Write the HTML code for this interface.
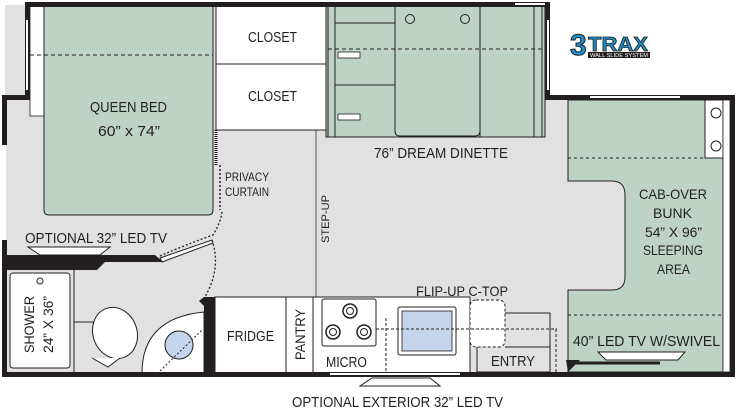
<!DOCTYPE html>
<html><head><meta charset="utf-8"><style>
html,body{margin:0;padding:0;background:#fff;width:741px;height:409px;overflow:hidden}
text{font-family:"Liberation Sans",sans-serif;fill:#231f20}
</style></head><body>
<svg width="741" height="409" viewBox="0 0 741 409" xmlns="http://www.w3.org/2000/svg">
<!-- floor -->
<rect x="5" y="5" width="545" height="370" fill="#e1e1e1"/>
<rect x="550" y="98" width="182" height="277" fill="#e1e1e1"/>
<!-- left slide strip -->
<rect x="30" y="6" width="14" height="110" fill="#fff" stroke="#231f20" stroke-width="0.8"/>
<!-- queen bed -->
<path d="M44 6 H213 V210 Q213 215 208 215 H49 Q44 215 44 210 Z" fill="#bcd3c6" stroke="#231f20" stroke-width="1"/>
<line x1="30" y1="55" x2="213" y2="55" stroke="#231f20" stroke-dasharray="4,3"/>
<text x="90" y="112" font-size="15" textLength="77" lengthAdjust="spacingAndGlyphs">QUEEN BED</text>
<text x="98" y="136" font-size="15" textLength="62" lengthAdjust="spacingAndGlyphs">60” x 74”</text>
<!-- closets -->
<rect x="216" y="6" width="110" height="58" fill="#fff" stroke="#231f20"/>
<rect x="216" y="64" width="110" height="66" fill="#fff" stroke="#231f20"/>
<text x="248" y="42" font-size="15" textLength="49" lengthAdjust="spacingAndGlyphs">CLOSET</text>
<text x="248" y="101" font-size="15" textLength="49" lengthAdjust="spacingAndGlyphs">CLOSET</text>
<line x1="216" y1="130" x2="216" y2="165" stroke="#231f20" stroke-width="3" stroke-dasharray="1,1"/>
<line x1="220" y1="165" x2="220" y2="210" stroke="#231f20" stroke-width="1.5" stroke-dasharray="2,2"/>
<text x="225" y="181" font-size="12" textLength="44" lengthAdjust="spacingAndGlyphs">PRIVACY</text>
<text x="225" y="196" font-size="12" textLength="44" lengthAdjust="spacingAndGlyphs">CURTAIN</text>
<!-- dinette -->
<rect x="326" y="6" width="219" height="131" fill="#bcd3c6" stroke="#231f20"/>
<rect x="328" y="6" width="7" height="131" fill="#bcd3c6" stroke="#231f20"/>
<path d="M395 6 V131 Q395 136 400 136 H475 Q480 136 480 131 V6" fill="none" stroke="#231f20"/>
<line x1="480" y1="6" x2="480" y2="137" stroke="#231f20"/>
<rect x="534" y="6" width="8" height="131" fill="#bcd3c6" stroke="#231f20"/>
<line x1="335" y1="23" x2="395" y2="23" stroke="#231f20"/>
<line x1="335" y1="85" x2="395" y2="85" stroke="#231f20"/>
<rect x="338" y="52" width="22" height="6" fill="#fff" stroke="#231f20" stroke-width="0.8"/>
<rect x="338" y="114" width="22" height="6" fill="#fff" stroke="#231f20" stroke-width="0.8"/>
<line x1="328" y1="49" x2="542" y2="49" stroke="#231f20" stroke-dasharray="4,3"/>
<circle cx="410" cy="19" r="4.5" fill="none" stroke="#231f20"/>
<circle cx="465" cy="19" r="4.5" fill="none" stroke="#231f20"/>
<text x="374" y="158" font-size="15" textLength="134" lengthAdjust="spacingAndGlyphs">76” DREAM DINETTE</text>
<!-- step up -->
<line x1="316" y1="130" x2="316" y2="297" stroke="#555" stroke-width="1"/>
<text x="0" y="0" font-size="11" textLength="48" lengthAdjust="spacingAndGlyphs" transform="translate(329,243) rotate(-90)">STEP-UP</text>
<!-- cab-over bunk -->
<path d="M568 100 H723 V372 H568 V290 H612 Q625 290 625 277 V195 Q625 181 612 181 H568 Z" fill="#bcd3c6" stroke="#231f20"/>
<rect x="705" y="100" width="18" height="58" fill="#fff" stroke="#231f20"/>
<circle cx="716" cy="113" r="5" fill="none" stroke="#231f20"/>
<circle cx="716" cy="146" r="5" fill="none" stroke="#231f20"/>
<line x1="568" y1="158" x2="705" y2="158" stroke="#231f20" stroke-dasharray="3,3"/>
<line x1="568" y1="315" x2="723" y2="315" stroke="#231f20" stroke-dasharray="3,3"/>
<rect x="723" y="100" width="7" height="272" fill="#fff" stroke="#231f20" stroke-width="0.8"/>
<g font-size="14">
<text x="639" y="199" textLength="68" lengthAdjust="spacingAndGlyphs">CAB-OVER</text>
<text x="653" y="218" textLength="39" lengthAdjust="spacingAndGlyphs">BUNK</text>
<text x="645" y="237" textLength="57" lengthAdjust="spacingAndGlyphs">54” X 96”</text>
<text x="643" y="255" textLength="60" lengthAdjust="spacingAndGlyphs">SLEEPING</text>
<text x="657" y="274" textLength="33" lengthAdjust="spacingAndGlyphs">AREA</text>
</g>
<text x="573" y="346" font-size="15" textLength="147" lengthAdjust="spacingAndGlyphs">40” LED TV W/SWIVEL</text>
<path d="M598 352 H685 L678 360 H606 Z" fill="#fff" stroke="#231f20"/>
<line x1="568" y1="363" x2="660" y2="363" stroke="#231f20" stroke-width="3"/>
<path d="M566 360 L580 360 L568 372 Z" fill="#231f20"/>
<!-- kitchen -->
<rect x="215" y="297" width="71" height="76" fill="#fff" stroke="#231f20"/>
<rect x="286" y="297" width="27" height="76" fill="#fff" stroke="#231f20"/>
<path d="M313 297 H470 V373 H313 Z" fill="#fff" stroke="#231f20"/>
<text x="227" y="341" font-size="15" textLength="47" lengthAdjust="spacingAndGlyphs">FRIDGE</text>
<text x="0" y="0" font-size="14" textLength="51" lengthAdjust="spacingAndGlyphs" transform="translate(305,360) rotate(-90)">PANTRY</text>
<rect x="322" y="299" width="54" height="47" rx="2" fill="#fff" stroke="#231f20"/>
<g fill="none" stroke="#231f20">
<circle cx="350" cy="311" r="7" stroke-width="1.5"/><circle cx="350" cy="311" r="3.5"/>
<circle cx="333" cy="332" r="7" stroke-width="1.5"/><circle cx="333" cy="332" r="3.5"/>
<circle cx="364" cy="332" r="7" stroke-width="1.5"/><circle cx="364" cy="332" r="3.5"/>
</g>
<text x="326" y="367" font-size="15" textLength="41" lengthAdjust="spacingAndGlyphs">MICRO</text>
<rect x="398" y="307" width="58" height="48" rx="2" fill="#fff" stroke="#231f20"/>
<rect x="402" y="311" width="50" height="40" fill="#c5d5ec" stroke="#231f20" stroke-width="0.8"/>
<path d="M505 313 H550 V372 H477 V347" fill="#e1e1e1" stroke="#231f20"/>
<line x1="505" y1="347" x2="550" y2="347" stroke="#231f20"/>
<rect x="470" y="300" width="35" height="47" rx="6" fill="#fff" stroke="#231f20" stroke-dasharray="3,2"/>
<text x="491" y="366" font-size="15" textLength="44" lengthAdjust="spacingAndGlyphs">ENTRY</text>
<line x1="376" y1="329" x2="557" y2="329" stroke="#231f20" stroke-dasharray="3,2"/>
<line x1="556" y1="329" x2="556" y2="372" stroke="#231f20" stroke-dasharray="3,2"/>
<line x1="386" y1="318" x2="386" y2="372" stroke="#231f20" stroke-dasharray="3,2"/>
<text x="416" y="296" font-size="14" textLength="92" lengthAdjust="spacingAndGlyphs">FLIP-UP C-TOP</text>
<!-- bath -->
<rect x="204" y="297" width="11" height="78" fill="#231f20"/>
<path d="M5 255 H155 L163 262 L105 262 L97 270 H5 Z" fill="#231f20"/>
<rect x="10" y="273" width="60" height="95" rx="3" fill="#fff" stroke="#231f20"/>
<circle cx="40" cy="281" r="3" fill="none" stroke="#231f20"/>
<text x="0" y="0" font-size="14" textLength="57" lengthAdjust="spacingAndGlyphs" transform="translate(34,353) rotate(-90)">SHOWER</text>
<text x="0" y="0" font-size="14" textLength="57" lengthAdjust="spacingAndGlyphs" transform="translate(53,353) rotate(-90)">24” X 36”</text>
<rect x="74" y="270" width="130" height="105" fill="#e1e1e1"/>
<line x1="74" y1="322" x2="98" y2="322" stroke="#231f20"/>
<line x1="74" y1="270" x2="74" y2="373" stroke="#231f20"/>
<ellipse cx="115" cy="333" rx="22" ry="26" fill="#fff" stroke="#231f20" transform="rotate(-20 115 333)"/>
<path d="M92 358 L108 367 L120 358" fill="#fff" stroke="#231f20"/>
<path d="M142 373 Q142 318 204 312 V373 Z" fill="#fff" stroke="#231f20"/>
<circle cx="179" cy="345" r="14" fill="#c5d5ec" stroke="#231f20"/>
<line x1="160" y1="371" x2="202" y2="330" stroke="#231f20" stroke-dasharray="2,2"/>
<!-- bedroom TV -->
<text x="25" y="243" font-size="15" textLength="142" lengthAdjust="spacingAndGlyphs">OPTIONAL 32” LED TV</text>
<path d="M28 247 H110 L100 255 H40 Z" fill="#fff" stroke="#231f20"/>
<path d="M160 258 L212 240 L213 243 L162 262 Z" fill="#fff" stroke="#231f20"/>
<path d="M160 256 Q185 245 213 235 Q222 220 222 210" fill="none" stroke="#231f20" stroke-dasharray="2,2" stroke-width="1.3"/>
<path d="M212 240 Q222 270 203 300" fill="none" stroke="#231f20" stroke-dasharray="2,2" stroke-width="1.3"/>
<path d="M199 301 L204 297 L210 305 L206 308 Z" fill="#231f20"/>
<!-- walls -->
<g fill="#231f20">
<rect x="25" y="2" width="522" height="5"/>
<rect x="25" y="2" width="5" height="96"/>
<rect x="2" y="95" width="28" height="5"/>
<rect x="2" y="95" width="5" height="50"/>
<rect x="2" y="240" width="5" height="137"/>
<rect x="2" y="372" width="733" height="5"/>
<rect x="545" y="2" width="5" height="98"/>
<rect x="545" y="95" width="190" height="5"/>
<rect x="730" y="95" width="5" height="282"/>
</g>
<rect x="4" y="145" width="2" height="95" fill="#fff"/>
<rect x="590" y="96" width="90" height="2" fill="#fff"/>
<rect x="515" y="3" width="30" height="2" fill="#fff"/>
<rect x="547" y="20" width="2" height="70" fill="#fff"/>
<rect x="26" y="20" width="2" height="70" fill="#fff"/>
<rect x="330" y="373" width="130" height="2" fill="#fff"/>
<!-- ext TV -->
<path d="M360 386 L372 378 H430 L440 386 Z" fill="#fff" stroke="#231f20"/>
<text x="292" y="407" font-size="15" textLength="211" lengthAdjust="spacingAndGlyphs">OPTIONAL EXTERIOR 32” LED TV</text>
<!-- logo -->
<text x="570" y="55" font-size="30" font-weight="bold" style="fill:#1a8fc9" stroke="#231f20" stroke-width="1">3</text>
<text x="588" y="51" font-size="20" font-weight="bold" style="fill:#1a8fc9" stroke="#231f20" stroke-width="0.8" textLength="60" lengthAdjust="spacingAndGlyphs">TRAX</text>
<rect x="588" y="52" width="62" height="6" fill="#231f20"/>
<text x="590" y="57" font-size="5" style="fill:#fff" textLength="58" lengthAdjust="spacingAndGlyphs">WALL SLIDE SYSTEM</text>
</svg>
</body></html>
